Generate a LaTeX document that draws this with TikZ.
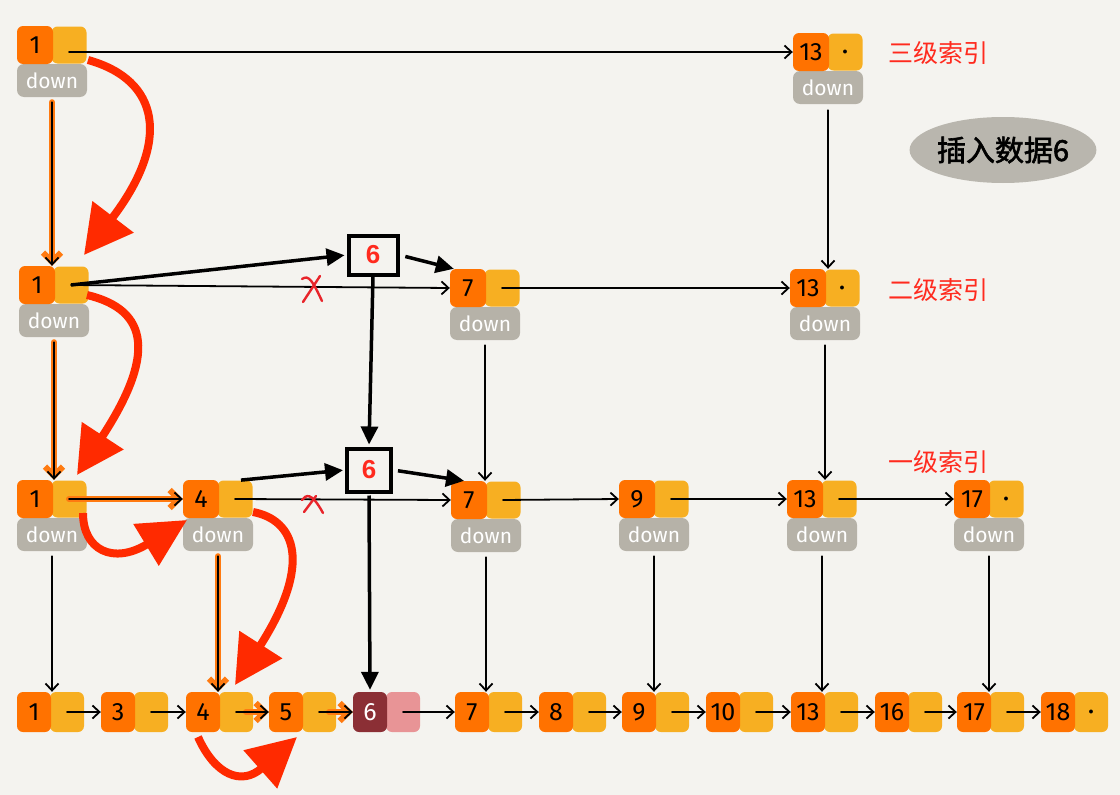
\documentclass[tikz,border=0pt]{standalone}
\usepackage{fontspec}
\setmainfont{Fira Sans}
\newfontfamily\cjk{Noto Sans CJK SC}
\newfontfamily\cjkheavy[FakeBold=2]{Noto Sans CJK SC}
\newfontfamily\boxfont{Liberation Sans}
\usetikzlibrary{arrows.meta,shapes.geometric}

\definecolor{paper}{HTML}{F4F3EF}
\definecolor{keyor}{HTML}{FF7200}
\definecolor{ptryel}{HTML}{F7AF22}
\definecolor{downgr}{HTML}{B6B2A8}
\definecolor{newkey}{HTML}{8B2F35}
\definecolor{newptr}{HTML}{E89496}
\definecolor{hot}{HTML}{FF2A00}
\definecolor{lblred}{HTML}{FF2A1E}
\definecolor{crossred}{HTML}{E8242A}
\definecolor{trail}{HTML}{FF7A10}
\definecolor{ovalgr}{HTML}{B9B6AE}

\tikzset{
  keybox/.style={fill=keyor, rounded corners=6pt, minimum width=36pt, minimum height=38pt,
    inner sep=0pt, font=\fontsize{25}{25}\selectfont},
  ptrbox/.style={fill=ptryel, rounded corners=6pt, minimum width=35pt, minimum height=37pt,
    inner sep=0pt},
  downbox/.style={fill=downgr, rounded corners=7pt, minimum width=70pt, minimum height=33pt,
    inner sep=0pt, text=white, font=\fontsize{21}{21}\selectfont},
  lkey/.style={keybox, minimum width=34pt, minimum height=40pt},
  lptr/.style={ptrbox, minimum width=34pt, minimum height=40pt},
  link/.style={line width=1.8pt, line cap=round, line join=round,
    -{Straight Barb[length=7pt,width=13pt]}},
  trailline/.style={draw=trail, line width=6pt, line cap=round, line join=round,
    -{Straight Barb[length=9pt,width=18pt]}},
  ins/.style={line width=3.5pt, -{Triangle[length=18pt,width=17pt]}},
  newbox/.style={draw=black, line width=4pt, fill=paper, inner sep=0pt, text=lblred,
    font=\boxfont\bfseries\fontsize{26}{26}\selectfont},
  hotarrow/.style={draw=hot, line width=8pt, line cap=butt},
  cross/.style={draw=crossred, line width=2.4pt, line cap=round},
  lvl/.style={text=lblred, font=\cjk\fontsize{25}{25}\selectfont},
  pics/inode/.style 2 args={code={
    \node[downbox] (-d) at (17,35.5) {down};
    \node[ptrbox] (-p) at (34,0) {#2};
    \node[keybox] (-k) at (0,0) {#1};
  }},
  pics/lnode/.style={code={
    \node[lptr] (-p) at (33,0) {};
    \node[lkey] (-k) at (0,0) {#1};
  }},
}
\newcommand{\nilptr}{{\fontsize{10}{10}\selectfont$\bullet$}}

\begin{document}
\begin{tikzpicture}[x=1pt,y=-1pt]
\useasboundingbox (0,0) rectangle (1120,795);
\fill[paper] (0,0) rectangle (1120,795);

% level 3 index
\pic (t1) at (35,45) {inode={1}{}};
\pic (t13) at (811,52) {inode={13}{\nilptr}};
% level 2 index
\pic (s1) at (37,285) {inode={1}{}};
\pic (s7) at (468,288) {inode={7}{}};
\pic (s13) at (808,288) {inode={13}{\nilptr}};
% level 1 index
\pic (f1) at (35,499) {inode={1}{}};
\pic (f4) at (201,499) {inode={4}{}};
\pic (f7) at (469,500) {inode={7}{}};
\pic (f9) at (637,499) {inode={9}{}};
\pic (f13) at (805,499) {inode={13}{}};
\pic (f17) at (972,499) {inode={17}{\nilptr}};
% base list
\pic (b1) at (34,712) {lnode=1};
\pic (b3) at (118,712) {lnode=3};
\pic (b4) at (203,712) {lnode=4};
\pic (b5) at (286,712) {lnode=5};
\node[lptr, fill=newptr] (b6-p) at (403,712) {};
\node[lkey, fill=newkey, text=white] (b6-k) at (370,712) {6};
\pic (b7) at (472,712) {lnode=7};
\pic (b8) at (556,712) {lnode=8};
\pic (b9) at (639,712) {lnode=9};
\pic (b10) at (723,712) {lnode=10};
\pic (b13) at (808,712) {lnode=13};
\pic (b16) at (892,712) {lnode=16};
\pic (b17) at (974,712) {lnode=17};
\node[lptr] (b18-p) at (1091,712) {\nilptr};
\node[lkey] (b18-k) at (1058,712) {18};

% the new node 6 in the index levels
\node[newbox, minimum width=49pt, minimum height=39pt] (n6a) at (373,255) {6};
\node[newbox, minimum width=44pt, minimum height=43pt] (n6b) at (369,470) {6};

% level labels and title
\node[lvl] (lab3) at (938,53) {三级索引};
\node[lvl] (lab2) at (938,290) {二级索引};
\node[lvl] (lab1) at (938,462) {一级索引};
\node[ellipse, fill=ovalgr, minimum width=186pt, minimum height=66pt, inner sep=0pt,
  font=\cjkheavy\fontsize{29}{29}\selectfont] (tag) at (1003,150) {插入数据6};

% level 3 links
\draw[link] (t1-p.center |- t13-k.west) -- (t13-k.west);
\draw[link, shorten <=6pt] (t13-d.south) -- (t13-d.south |- s13-k.north);
\draw[trailline, shorten <=5pt] (t1-d.south) -- (t1-d.south |- s1-k.north);
\draw[link, shorten <=5pt] (t1-d.south) -- (t1-d.south |- s1-k.north);

% level 2 links
\draw[link] (s1-p.center) -- (s7-k.west);
\draw[link] (s7-p.center) -- (s13-k.west);
\draw[ins, shorten >=2pt] (s1-p.center) -- (n6a.west);
\draw[ins, shorten <=6pt] (n6a.east) -- ([xshift=4pt]s7-k.north west);
\draw[ins, shorten >=2pt] (n6a.south) -- (n6b.north);
\draw[trailline, shorten <=5pt] (s1-d.south) -- (s1-d.south |- f1-k.north);
\draw[link, shorten <=5pt] (s1-d.south) -- (s1-d.south |- f1-k.north);
\draw[link, shorten <=5pt] (s7-d.south) -- (s7-d.south |- f7-k.north);
\draw[link, shorten <=5pt] (s13-d.south) -- (s13-d.south |- f13-k.north);
\draw[cross] (302,279) .. controls (309,274) and (313,282) .. (322,301);
\draw[cross] (320,276) -- (303,302);

% level 1 links
\draw[trailline] (f1-p.center) -- (f4-k.west);
\draw[link] (f1-p.center) -- (f4-k.west);
\draw[link] (f4-p.center) -- (f7-k.west);
\draw[link] (f7-p.center) -- (f9-k.west);
\draw[link] (f9-p.center) -- (f13-k.west);
\draw[link] (f13-p.center) -- (f17-k.west);
\draw[ins, shorten <=2pt, shorten >=2pt] ([xshift=4pt]f4-p.north) -- (n6b.west);
\draw[ins, shorten <=5pt] (n6b.east) -- ([xshift=-5pt]f7-k.north);
\draw[cross] (302,500) .. controls (306,495) and (311,491) .. (323,513);
\draw[cross] (316,496) -- (304,512);

% level 1 down to the base list
\draw[link, shorten <=5pt] (f1-d.south) -- (f1-d.south |- b1-k.north);
\draw[trailline, shorten <=5pt] (f4-d.south) -- (f4-d.south |- b4-k.north);
\draw[link, shorten <=5pt] (f4-d.south) -- (f4-d.south |- b4-k.north);
\draw[ins, shorten <=2pt, shorten >=2pt] (n6b.south) -- (b6-k.north);
\draw[link, shorten <=5pt] (f7-d.south) -- (f7-d.south |- b7-k.north);
\draw[link, shorten <=5pt] (f9-d.south) -- (f9-d.south |- b9-k.north);
\draw[link, shorten <=5pt] (f13-d.south) -- (f13-d.south |- b13-k.north);
\draw[link, shorten <=5pt] (f17-d.south) -- (f17-d.south |- b17-k.north);

% base list links
\draw[link] (b1-p.center) -- (b3-k.west);
\draw[link] (b3-p.center) -- (b4-k.west);
\draw[trailline, shorten <=10pt] (b4-p.center) -- (b5-k.west);
\draw[link] (b4-p.center) -- (b5-k.west);
\draw[trailline, shorten <=10pt] (b5-p.center) -- (b6-k.west);
\draw[link] (b5-p.center) -- (b6-k.west);
\draw[link] (b6-p.center) -- (b7-k.west);
\draw[link] (b7-p.center) -- (b8-k.west);
\draw[link] (b8-p.center) -- (b9-k.west);
\draw[link] (b9-p.center) -- (b10-k.west);
\draw[link] (b10-p.center) -- (b13-k.west);
\draw[link] (b13-p.center) -- (b16-k.west);
\draw[link] (b16-p.center) -- (b17-k.west);
\draw[link] (b17-p.center) -- (b18-k.west);

% search path, drawn as bold red curves
\coordinate (h1) at (84,255);
\coordinate (h2) at (77,475);
\coordinate (h3) at (187,520);
\coordinate (h4) at (235,685);
\coordinate (h5) at (297,737);
\draw[hotarrow, -{Triangle[length=48pt,width=50pt]}]
  ([shift={(53,15)}]t1-k.center) .. controls (160,80) and (171,141) .. (h1);
\draw[hotarrow, -{Triangle[length=47pt,width=48pt]}]
  ([shift={(50,10)}]s1-k.center) .. controls (150,310) and (155,356) .. (h2);
\draw[hotarrow, -{Triangle[length=48pt,width=47pt]}]
  ([shift={(48,14)}]f1-k.center) .. controls (83,550) and (113,565) .. (h3);
\draw[hotarrow, -{Triangle[length=48pt,width=49pt]}]
  ([shift={(52,13)}]f4-k.center) .. controls (295,520) and (313,563) .. (h4);
\draw[hotarrow, -{Triangle[length=49pt,width=49pt]}]
  ([shift={(-5,25)}]b4-k.center) .. controls (215,775) and (241.5,786) .. (h5);
\end{tikzpicture}
\end{document}
